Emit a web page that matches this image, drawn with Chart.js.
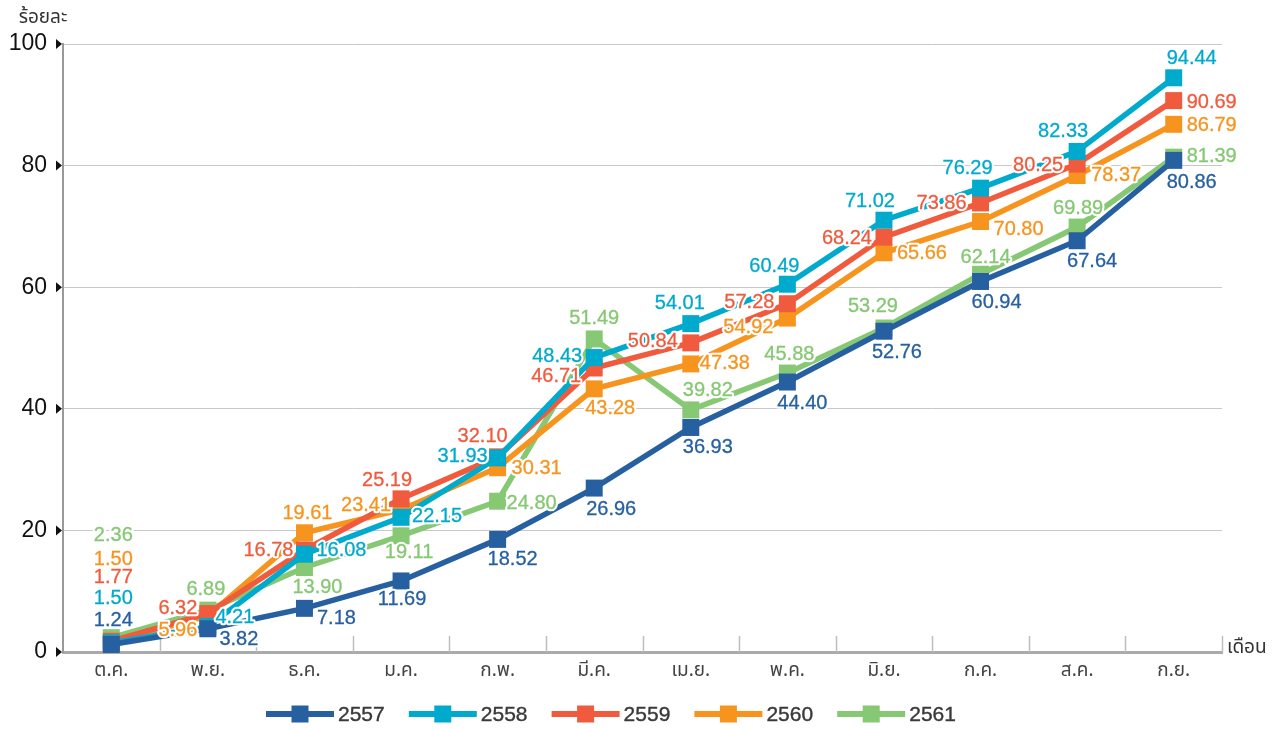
<!DOCTYPE html>
<html>
<head>
<meta charset="utf-8">
<script src="https://cdn.jsdelivr.net/npm/chart.js@4.4.1/dist/chart.umd.min.js"></script>
<style>
  html, body { margin: 0; padding: 0; background: #ffffff; }
  #wrap { width: 1282px; height: 729px; }
</style>
</head>
<body>
<div id="wrap"><canvas id="c" width="1282" height="729"></canvas></div>
<script>
// Months of the fiscal year (Oct - Sep)
const months = ['ต.ค.', 'พ.ย.', 'ธ.ค.', 'ม.ค.', 'ก.พ.', 'มี.ค.', 'เม.ย.', 'พ.ค.', 'มิ.ย.', 'ก.ค.', 'ส.ค.', 'ก.ย.'];

// Cumulative disbursement, percent
const series2557 = [1.24, 3.82, 7.18, 11.69, 18.52, 26.96, 36.93, 44.40, 52.76, 60.94, 67.64, 80.86];
const series2558 = [1.50, 4.21, 16.08, 22.15, 31.93, 48.43, 54.01, 60.49, 71.02, 76.29, 82.33, 94.44];
const series2559 = [1.77, 6.32, 16.78, 25.19, 32.10, 46.71, 50.84, 57.28, 68.24, 73.86, 80.25, 90.69];
const series2560 = [1.50, 5.96, 19.61, 23.41, 30.31, 43.28, 47.38, 54.92, 65.66, 70.80, 78.37, 86.79];
const series2561 = [2.36, 6.89, 13.90, 19.11, 24.80, 51.49, 39.82, 45.88, 53.29, 62.14, 69.89, 81.39];

const seriesNames = ['2557', '2558', '2559', '2560', '2561'];
const yTicks = [0, 20, 40, 60, 80, 100];

// Line colours per year
const colors = ['#2760A0', '#00AACD', '#F05A3D', '#F7941E', '#86C873'];

// Where each value label sits relative to its point (text centre, px)
const labelOffsets = [
  [[2,-24],[31,11],[32,10],[1,19],[15,20],[17,21],[17,20],[15,21],[13,21],[16,21],[15,21],[18,22]],
  [[2,-44],[27,-9],[37,-4],[36,-1],[-35,-1],[-37,-1],[-11,-20],[-13,-18],[-14,-19],[-13,-20],[-14,-20],[18,-19]],
  [[2,-64],[-30,-5],[-36,1],[-14,-18],[-15,-20],[-38,8],[-38,-1],[-38,-1],[-37,1],[-39,1],[-39,1],[38,2]],
  [[2,-83],[-30,15],[3,-19],[-35,-4],[39,1],[16,20],[34,0],[-39,9],[38,1],[38,8],[39,0],[38,1]],
  [[2,-102],[-2,-21],[13,20],[8,17],[34,2],[0,-20],[17,-19],[2,-19],[-11,-22],[5,-17],[1,-19],[38,-1]]
];

const allSeries = [series2557, series2558, series2559, series2560, series2561];
const THAI_FONT = '"Noto Sans Thai", "Noto Sans Thai UI", "Loma", "Garuda", "Noto Sans", "DejaVu Sans", sans-serif';
const NUM_FONT = '"Liberation Sans", Arial, sans-serif';

// Short separators between months, titles and tick arrows
const axisDecor = {
  id: 'axisDecor',
  beforeDatasetsDraw(chart) {
    const { ctx, chartArea: a, scales: { x } } = chart;
    const step = x.getPixelForValue(1) - x.getPixelForValue(0);
    ctx.save();
    ctx.strokeStyle = '#bdbdbd';
    ctx.lineWidth = 1.5;
    for (let i = 1; i <= months.length; i++) {
      const px = Math.round(x.getPixelForValue(i) - step / 2) + 0.5;
      ctx.beginPath();
      ctx.moveTo(px, a.bottom - 16);
      ctx.lineTo(px, a.bottom);
      ctx.stroke();
    }
    ctx.restore();
  },
  afterDraw(chart) {
    const { ctx, chartArea: a, scales: { y } } = chart;
    ctx.save();
    // right-pointing arrows on the value axis
    ctx.fillStyle = '#111';
    yTicks.forEach(v => {
      const py = y.getPixelForValue(v);
      ctx.beginPath();
      ctx.moveTo(a.left - 7, py - 5);
      ctx.lineTo(a.left - 1, py);
      ctx.lineTo(a.left - 7, py + 5);
      ctx.closePath();
      ctx.fill();
    });
    // axis titles
    ctx.fillStyle = '#333';
    ctx.font = '19px ' + THAI_FONT;
    ctx.textAlign = 'center';
    ctx.textBaseline = 'alphabetic';
    ctx.fillText('ร้อยละ', 43, 23);
    ctx.textAlign = 'left';
    ctx.fillText('เดือน', a.right + 5, a.bottom + 1);

    // legend
    const ly = 714;
    const startX = 266;
    const period = 142.8;
    seriesNames.forEach((name, i) => {
      const x0 = startX + i * period;
      ctx.strokeStyle = colors[i];
      ctx.lineWidth = 6;
      ctx.beginPath();
      ctx.moveTo(x0, ly);
      ctx.lineTo(x0 + 68, ly);
      ctx.stroke();
      ctx.fillStyle = colors[i];
      ctx.fillRect(x0 + 34 - 8.5, ly - 8.5, 17, 17);
      ctx.fillStyle = '#3a3a3a';
      ctx.strokeStyle = '#3a3a3a';
      ctx.lineWidth = 0.4;
      ctx.font = '21px ' + NUM_FONT;
      ctx.textAlign = 'left';
      ctx.textBaseline = 'middle';
      ctx.fillText(name, x0 + 72, ly + 1);
      ctx.strokeText(name, x0 + 72, ly + 1);
    });
    ctx.restore();
  }
};

// Value labels with a white halo
const valueLabels = {
  id: 'valueLabels',
  afterDatasetsDraw(chart) {
    const { ctx } = chart;
    ctx.save();
    ctx.font = '20px ' + NUM_FONT;
    ctx.textAlign = 'center';
    ctx.textBaseline = 'middle';
    ctx.lineJoin = 'round';
    chart.data.datasets.forEach((ds, di) => {
      const meta = chart.getDatasetMeta(di);
      meta.data.forEach((pt, i) => {
        const txt = ds.data[i].toFixed(2);
        const [dx, dy] = labelOffsets[di][i];
        const tx = pt.x + dx, ty = pt.y + dy;
        ctx.strokeStyle = '#ffffff';
        ctx.lineWidth = 4.5;
        ctx.strokeText(txt, tx, ty);
        ctx.fillStyle = colors[di];
        ctx.fillText(txt, tx, ty);
        ctx.strokeStyle = colors[di];
        ctx.lineWidth = 0.3;
        ctx.strokeText(txt, tx, ty);
      });
    });
    ctx.restore();
  }
};

const datasets = allSeries.map((values, i) => ({
  label: seriesNames[i],
  data: values,
  borderColor: colors[i],
  backgroundColor: colors[i],
  borderWidth: 5.5,
  pointStyle: 'rect',
  pointRadius: 12,
  pointHoverRadius: 12,
  pointBorderWidth: 0,
  pointBackgroundColor: colors[i],
  tension: 0,
  clip: false
}));

new Chart(document.getElementById('c'), {
  type: 'line',
  data: { labels: months, datasets },
  options: {
    responsive: false,
    devicePixelRatio: 1,
    animation: false,
    layout: { padding: { top: 44, right: 60, left: 0, bottom: 0 } },
    plugins: {
      legend: { display: false },
      tooltip: { enabled: false }
    },
    scales: {
      x: {
        type: 'category',
        offset: true,
        grid: { display: false, drawTicks: false },
        border: { display: true, color: '#aaaaaa', width: 3 },
        ticks: {
          color: '#444444',
          font: { family: THAI_FONT, size: 19 },
          padding: 9,
          maxRotation: 0,
          autoSkip: false
        },
        afterFit(s) { s.height = 77; }
      },
      y: {
        min: 0,
        max: 100,
        afterBuildTicks(s) { s.ticks = yTicks.map(v => ({ value: v })); },
        grid: { color: '#c8c8c8', lineWidth: 1, drawTicks: false },
        border: { display: true, color: '#999999', width: 2 },
        ticks: {
          color: '#111111',
          font: { family: NUM_FONT, size: 23 },
          padding: 16
        },
        afterFit(s) { s.width = 63; }
      }
    }
  },
  plugins: [axisDecor, valueLabels]
});
</script>
</body>
</html>
